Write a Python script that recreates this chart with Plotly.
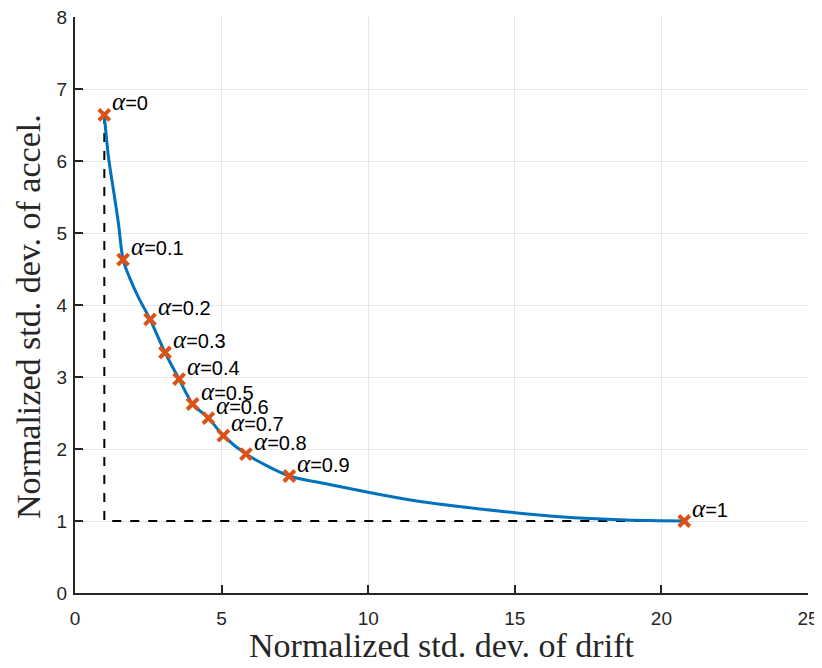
import plotly.graph_objects as go

# Trade-off points for each weighting alpha
alphas = [0, 0.1, 0.2, 0.3, 0.4, 0.5, 0.6, 0.7, 0.8, 0.9, 1]
drift_pts = [1.00, 1.64, 2.56, 3.07, 3.55, 4.01, 4.55, 5.06, 5.83, 7.31, 20.78]
accel_pts = [6.64, 4.63, 3.80, 3.34, 2.97, 2.625, 2.43, 2.185, 1.93, 1.625, 1.00]

# Continuous trade-off curve
curve_drift = [1.00, 1.14, 1.31, 1.48, 1.64, 1.85, 2.16, 2.56, 3.07, 3.55, 4.01,
               4.55, 5.06, 5.83, 7.31, 8.47, 10.0, 11.77, 15.0, 16.54, 18.8, 19.95, 20.78]
curve_accel = [6.64, 6.06, 5.60, 5.14, 4.63, 4.39, 4.11, 3.80, 3.34, 2.97, 2.625,
               2.43, 2.185, 1.93, 1.625, 1.524, 1.40, 1.27, 1.115, 1.06, 1.015, 1.004, 1.00]

BLUE = '#0072BD'
ORANGE = '#D95319'
AXIS_COLOR = '#262626'
SANS = 'Liberation Sans, Arial'
SERIF = 'Liberation Serif'

fig = go.Figure()

# dashed bounds: best achievable drift / accel
fig.add_trace(go.Scatter(
    x=[drift_pts[0], drift_pts[0], drift_pts[-1]],
    y=[accel_pts[0], accel_pts[-1], accel_pts[-1]],
    mode='lines', line=dict(color='black', width=2, dash='dash'),
    showlegend=False, hoverinfo='skip'))

fig.add_trace(go.Scatter(
    x=curve_drift, y=curve_accel, mode='lines',
    line=dict(color=BLUE, width=3, shape='spline', smoothing=0.8),
    showlegend=False))

fig.add_trace(go.Scatter(
    x=drift_pts, y=accel_pts, mode='markers',
    marker=dict(symbol='x-thin-open', size=11, color=ORANGE,
                line=dict(color=ORANGE, width=4)),
    showlegend=False))

for a, x, y in zip(alphas, drift_pts, accel_pts):
    fig.add_annotation(
        x=x, y=y, xanchor='left', yanchor='middle', xshift=6, yshift=13,
        text=(f"<span style='font-family:\"{SERIF}\";font-size:25px'><i>\u03b1</i></span>"
              f"={a:g}"),
        showarrow=False, font=dict(family=SANS, size=20, color='black'))

# axis titles placed as annotations for exact positioning
fig.add_annotation(xref='paper', yref='paper', x=0.5, y=0, yanchor='middle',
                   yshift=-52, showarrow=False, text='Normalized std. dev. of drift',
                   font=dict(family=SERIF, size=34, color=AXIS_COLOR))
fig.add_annotation(xref='paper', yref='paper', x=0, y=0.5, xanchor='center',
                   yanchor='middle', xshift=-47, yshift=-12, textangle=-90,
                   showarrow=False, text='Normalized std. dev. of accel.',
                   font=dict(family=SERIF, size=34, color=AXIS_COLOR))

axis_common = dict(
    showline=True, linecolor=AXIS_COLOR, linewidth=2, mirror=False,
    ticks='inside', ticklen=8, tickwidth=2, tickcolor=AXIS_COLOR,
    showgrid=True, gridcolor='#e6e6e6', gridwidth=1, zeroline=False,
    tickfont=dict(family=SANS, size=19, color=AXIS_COLOR),
    automargin=False, ticklabeloverflow='allow',
)

fig.update_xaxes(range=[0, 25], dtick=5, ticklabelstandoff=7, **axis_common)
fig.update_yaxes(range=[0, 8], dtick=1, ticklabelstandoff=2, **axis_common)

# page has an 8px body margin, so the figure is sized to fit the window
fig.update_layout(
    width=814, height=660,
    margin=dict(l=67, r=14, t=9, b=75),
    plot_bgcolor='white', paper_bgcolor='white',
)

fig.write_html("out.html")
